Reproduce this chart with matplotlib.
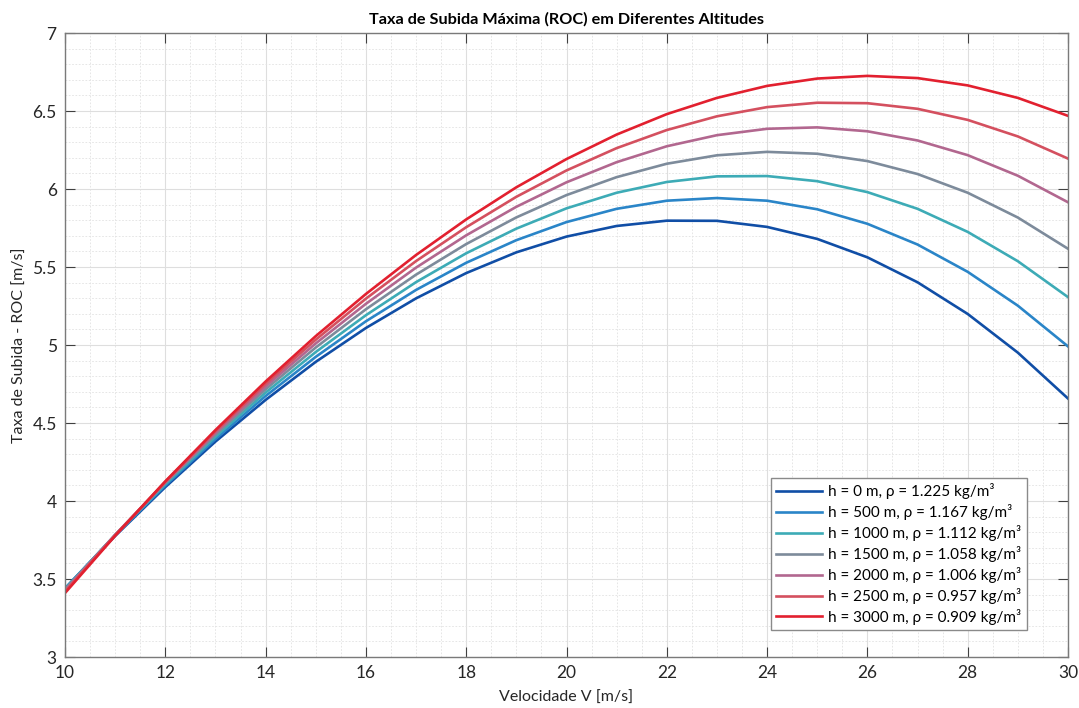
import numpy as np
import matplotlib
matplotlib.use("Agg")
import matplotlib.pyplot as plt
from matplotlib.ticker import MultipleLocator

plt.rcParams['font.family'] = ['Lato', 'DejaVu Sans']

# velocity grid [m/s]
V = [10, 11, 12, 13, 14, 15, 16, 17, 18, 19, 20,
     21, 22, 23, 24, 25, 26, 27, 28, 29, 30]

altitudes = [0, 500, 1000, 1500, 2000, 2500, 3000]
densities = [1.225, 1.167, 1.112, 1.058, 1.006, 0.957, 0.909]

# rate of climb [m/s] for each altitude
roc_h0 = [3.440, 3.776, 4.089, 4.381, 4.648, 4.892, 5.109, 5.299, 5.461, 5.594, 5.695,
          5.763, 5.797, 5.796, 5.757, 5.680, 5.562, 5.402, 5.199, 4.951, 4.657]
roc_h500 = [3.439, 3.780, 4.099, 4.397, 4.673, 4.924, 5.152, 5.353, 5.527, 5.672, 5.788,
            5.873, 5.925, 5.942, 5.925, 5.870, 5.777, 5.644, 5.469, 5.252, 4.991]
roc_h1000 = [3.436, 3.782, 4.108, 4.412, 4.695, 4.955, 5.191, 5.403, 5.588, 5.746, 5.876,
             5.976, 6.045, 6.081, 6.083, 6.050, 5.980, 5.873, 5.725, 5.537, 5.307]
roc_h1500 = [3.432, 3.783, 4.115, 4.426, 4.716, 4.984, 5.229, 5.451, 5.647, 5.818, 5.961,
             6.076, 6.162, 6.216, 6.238, 6.226, 6.179, 6.096, 5.976, 5.817, 5.617]
roc_h2000 = [3.426, 3.783, 4.120, 4.437, 4.734, 5.010, 5.264, 5.496, 5.703, 5.886, 6.043,
             6.172, 6.274, 6.345, 6.386, 6.395, 6.370, 6.311, 6.217, 6.085, 5.915]
roc_h2500 = [3.419, 3.781, 4.124, 4.447, 4.751, 5.034, 5.297, 5.538, 5.755, 5.950, 6.119,
             6.262, 6.378, 6.466, 6.525, 6.553, 6.550, 6.514, 6.443, 6.337, 6.195]
roc_h3000 = [3.410, 3.777, 4.126, 4.455, 4.766, 5.057, 5.327, 5.577, 5.805, 6.011, 6.192,
             6.349, 6.480, 6.584, 6.661, 6.708, 6.725, 6.711, 6.664, 6.584, 6.469]

roc = [roc_h0, roc_h500, roc_h1000, roc_h1500, roc_h2000, roc_h2500, roc_h3000]
colors = ['#104ea6', '#2a85c8', '#3dabb6', '#7d8b9b', '#b2678f', '#d4505f', '#e2202f']

fig = plt.figure(figsize=(10.79, 7.08), dpi=100)
ax = fig.add_axes([65/1079, 51/708, 1003/1079, 624/708])

for h, rho, y, c in zip(altitudes, densities, roc, colors):
    ax.plot(V, y, color=c, lw=1.9, solid_joinstyle='round',
            label=f'h = {h} m, ρ = {rho:.3f} kg/m³')

ax.set_xlim(10, 30)
ax.set_ylim(3, 7)
ax.xaxis.set_major_locator(MultipleLocator(2))
ax.xaxis.set_minor_locator(MultipleLocator(0.5))
ax.yaxis.set_minor_locator(MultipleLocator(0.1))
ax.set_yticks(np.arange(3, 7.01, 0.5))
ax.set_yticklabels(['3', '3.5', '4', '4.5', '5', '5.5', '6', '6.5', '7'])

ax.grid(which='major', color='#dedede', lw=0.8, ls='-')
ax.grid(which='minor', color='#e2e2e2', lw=0.6, ls=(0, (2, 2)))
ax.set_axisbelow(True)

ax.tick_params(which='major', direction='in', length=7, width=0.8, color='#404040',
               top=True, right=True, labelsize=12.5, labelcolor='#262626', pad=6)
ax.tick_params(which='minor', length=0)
for s in ax.spines.values():
    s.set_color('#7a7a7a')
    s.set_linewidth(1.0)

ax.set_title('Taxa de Subida Máxima (ROC) em Diferentes Altitudes',
             fontsize=11.7, fontweight='bold', color='black', pad=7)
ax.set_xlabel('Velocidade V [m/s]', fontsize=11.5, color='#262626', labelpad=7)
ax.set_ylabel('Taxa de Subida - ROC [m/s]', fontsize=11.5, color='#262626', labelpad=4)

leg = ax.legend(loc='lower right', bbox_to_anchor=(0.959, 0.043), borderaxespad=0,
                fontsize=11, frameon=True, fancybox=False, handlelength=3.0,
                handletextpad=0.4, labelspacing=0.32, borderpad=0.35)
leg.get_frame().set_edgecolor('#8a8a8a')
leg.get_frame().set_linewidth(1.0)
leg.get_frame().set_alpha(1)

fig.savefig('out.png', dpi=100)
